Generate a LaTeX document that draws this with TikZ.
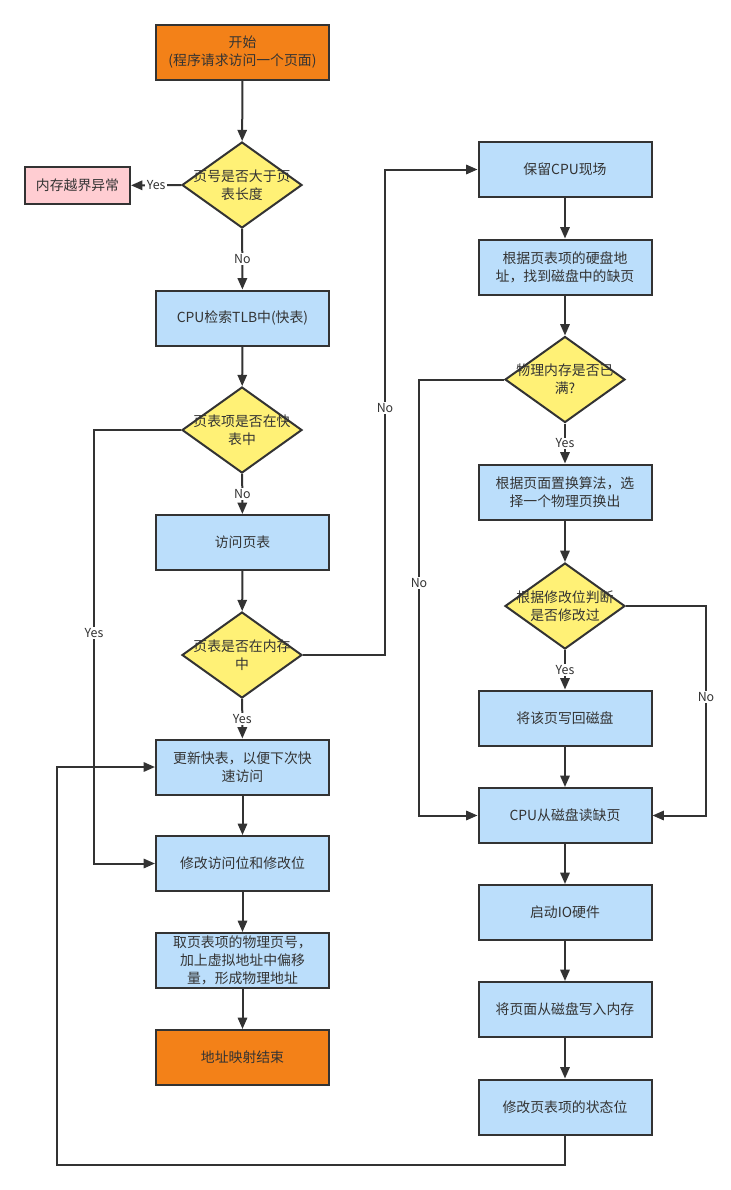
\documentclass[tikz,border=0pt]{standalone}
\usepackage{fontspec}
\setmainfont{Noto Sans CJK SC}
\usetikzlibrary{shapes.geometric,arrows.meta,calc}
\definecolor{ink}{HTML}{333333}
\definecolor{orangefill}{HTML}{F38118}
\definecolor{bluefill}{HTML}{BBDEFB}
\definecolor{yellowfill}{HTML}{FFF176}
\definecolor{pinkfill}{HTML}{FFCDD2}
\begin{document}
\begin{tikzpicture}[x=0.75pt,y=-0.75pt,
  base/.style={draw=ink,line width=1.5pt,text=ink,align=center,inner sep=2pt,
    font=\fontsize{10.4}{13.5}\selectfont},
  proc/.style={base,rectangle,fill=bluefill,minimum width=129.75pt,minimum height=41.25pt},
  term/.style={proc,fill=orangefill},
  fault/.style={base,rectangle,fill=pinkfill,minimum width=78.75pt,minimum height=27.75pt},
  dec/.style={draw=ink,line width=1.5pt,diamond,fill=yellowfill,minimum width=90pt,minimum height=64.5pt,inner sep=0pt},
  dtext/.style={text=ink,align=center,inner sep=0pt,font=\fontsize{10.4}{13.5}\selectfont},
  arr/.style={draw=ink,line width=1.5pt,-{Triangle[length=8.5pt,width=7pt]}},
  lbl/.style={fill=white,text=ink,inner sep=1pt,font=\fontsize{9.3}{11}\selectfont}]
\useasboundingbox (0,0) rectangle (731,1190);

% left column: address translation
\node[term]  (start) at (242.5,52.5)  {开始\\(程序请求访问一个页面)};
\node[dec]   (d1)    at (242,185)     {};
\node[dtext]         at (d1)          {页号是否大于页\\表长度};
\node[fault] (err)   at (77.5,185.5)  {内存越界异常};
\node[proc]  (tlb)   at (242.5,318)   {CPU检索TLB中(快表)};
\node[dec]   (d2)    at (242,430)     {};
\node[dtext]         at (d2)          {页表项是否在快\\表中};
\node[proc]  (pt)    at (242.5,542.5) {访问页表};
\node[dec]   (d3)    at (242,655)     {};
\node[dtext]         at (d3)          {页表是否在内存\\中};
\node[proc]  (upd)   at (242.5,767)   {更新快表，以便下次快\\速访问};
\node[proc]  (mod)   at (242.5,863.5) {修改访问位和修改位};
\node[proc]  (phys)  at (242.5,960.5) {取页表项的物理页号，\\加上虚拟地址中偏移\\量，形成物理地址};
\node[term]  (fin)   at (242.5,1057.5){地址映射结束};

% right column: page fault handling
\node[proc]  (save)  at (565,169.5)   {保留CPU现场};
\node[proc]  (find)  at (565,267)     {根据页表项的硬盘地\\址，找到磁盘中的缺页};
\node[dec]   (d4)    at (565,379.5)   {};
\node[dtext]         at (d4)          {物理内存是否已\\满?};
\node[proc]  (repl)  at (565,492)     {根据页面置换算法，选\\择一个物理页换出};
\node[dec]   (d5)    at (565,606)     {};
\node[dtext]         at (d5)          {根据修改位判断\\是否修改过};
\node[proc]  (wb)    at (565,718)     {将该页写回磁盘};
\node[proc]  (rd)    at (565,815.5)   {CPU从磁盘读缺页};
\node[proc]  (io)    at (565,912.5)   {启动IO硬件};
\node[proc]  (wr)    at (565,1009.5)  {将页面从磁盘写入内存};
\node[proc]  (st)    at (565,1107)    {修改页表项的状态位};

% routing columns for the bent connectors
\coordinate (yesx)  at (94,0);
\coordinate (nox)   at (385,0);
\coordinate (fullx) at (419,0);
\coordinate (dirtx) at (706,0);
\coordinate (loop)  at (57,1165);

% left column connectors
\draw[arr] (start) -- (d1);
\draw[arr] (d1) -- node[lbl]{Yes} (err);
\draw[arr] (d1) -- node[lbl]{No} (tlb);
\draw[arr] (tlb) -- (d2);
\draw[arr] (d2) -- node[lbl]{No} (pt);
\draw[arr] (pt) -- (d3);
\draw[arr] (d3) -- node[lbl]{Yes} (upd);
\draw[arr] (upd) -- (mod);
\draw[arr] (mod) -- (phys);
\draw[arr] (phys) -- (fin);
\draw[arr] (d2.west) -| node[lbl,pos=0.734]{Yes} (yesx |- mod.west) -- (mod.west);
\draw[arr] (d3.east) -| node[lbl,pos=0.754]{No} (nox |- save.west) -- (save.west);

% right column connectors
\draw[arr] (save) -- (find);
\draw[arr] (find) -- (d4);
\draw[arr] (d4) -- node[lbl]{Yes} (repl);
\draw[arr] (repl) -- (d5);
\draw[arr] (d5) -- node[lbl]{Yes} (wb);
\draw[arr] (wb) -- (rd);
\draw[arr] (rd) -- (io);
\draw[arr] (io) -- (wr);
\draw[arr] (wr) -- (st);
\draw[arr] (d4.west) -| node[lbl,pos=0.733]{No} (fullx |- rd.west) -- (rd.west);
\draw[arr] (d5.east) -| node[lbl,pos=0.717]{No} (dirtx |- rd.east) -- (rd.east);

% return path back to the TLB update
\draw[arr] (st.south) |- (loop) |- (upd.west);
\end{tikzpicture}
\end{document}
